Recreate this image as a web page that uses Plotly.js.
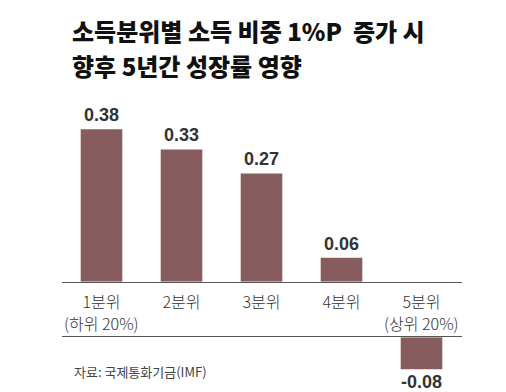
<!DOCTYPE html>
<html>
<head>
<meta charset="utf-8">
<script src="https://cdn.plot.ly/plotly-3.0.1.min.js"></script>
<style>html,body{margin:0;padding:0;background:#fff;}#chart{width:506px;height:392px;}</style>
</head>
<body>
<div id="chart"></div>
<script>
const categories = ['1분위', '2분위', '3분위', '4분위', '5분위'];
const categoryNotes = ['(하위 20%)', '', '', '', '(상위 20%)'];
const values = [0.38, 0.33, 0.27, 0.06, -0.08];
const valueLabels = ['0.38', '0.33', '0.27', '0.06', '-0.08'];
const titleLine1 = '소득분위별 소득 비중 1%P  증가 시';
const titleLine2 = '향후 5년간 성장률 영향';
const sourceText = '자료: 국제통화기금(IMF)';

const W = 506, H = 392;
const barColor = '#875c5e';
const lineColor = '#555555';
const krFont = '"Noto Sans CJK KR", "Noto Sans", sans-serif';
const numFont = '"Liberation Sans Narrow", "Liberation Sans", Arial, sans-serif';

const posY = values.map(v => v >= 0 ? v : null);
const negY = values.map(v => v < 0 ? v : null);

const xDom = [61.5 / W, 461.5 / W];
const topDom = [(H - 281.7) / H, (H - 113.3) / H];
const botDom = [(H - 391.4) / H, (H - 337.3) / H];

const traces = [
  {type: 'bar', x: categories, y: posY, xaxis: 'x', yaxis: 'y',
   marker: {color: barColor}, width: 0.52, hoverinfo: 'none'},
  {type: 'bar', x: categories, y: negY, xaxis: 'x2', yaxis: 'y2',
   marker: {color: barColor}, width: 0.52, hoverinfo: 'none'}
];

const annotations = values.map((v, i) => ({
  x: categories[i], y: v,
  xref: v >= 0 ? 'x' : 'x2', yref: v >= 0 ? 'y' : 'y2',
  text: valueLabels[i], showarrow: false, borderpad: 0,
  yanchor: v >= 0 ? 'bottom' : 'top', yshift: v >= 0 ? 3 : -2,
  font: {family: numFont, size: 18, color: '#333333', weight: 700}
}));
categoryNotes.forEach((note, i) => {
  if (note) annotations.push({
    x: categories[i], xref: 'x', yref: 'paper', y: (H - 322.5) / H,
    yanchor: 'middle', showarrow: false, borderpad: 0, text: note,
    font: {family: krFont, size: 16, color: '#333333', weight: 300}
  });
});
annotations.push({
  xref: 'paper', yref: 'paper', x: 72 / W, y: (H - 371.7) / H,
  xanchor: 'left', yanchor: 'middle', showarrow: false,
  text: sourceText, font: {family: krFont, size: 13, color: '#444444'}
});
annotations.push({
  xref: 'paper', yref: 'paper', x: 72 / W, y: (H - 65) / H,
  xanchor: 'left', yanchor: 'middle', showarrow: false, borderpad: 0,
  xshift: -1,
  text: titleLine2, font: {family: krFont, size: 24, color: '#111111', weight: 900}
});

const layout = {
  width: W, height: H,
  margin: {l: 0, r: 0, t: 0, b: 0},
  paper_bgcolor: '#ffffff', plot_bgcolor: '#ffffff',
  showlegend: false,
  title: {text: titleLine1, x: 72 / W, xanchor: 'left',
          y: 1 - 33 / H, yanchor: 'middle', yref: 'container',
          font: {family: krFont, size: 24, color: '#111111', weight: 900}},
  xaxis: {domain: xDom, anchor: 'y', type: 'category', range: [-0.5, 4.5],
          showline: true, linecolor: lineColor, linewidth: 1.5,
          ticks: '', showgrid: false, zeroline: false, fixedrange: true,
          ticklabelstandoff: 6,
          tickfont: {family: krFont, size: 16, color: '#333333', weight: 300}},
  yaxis: {domain: topDom, anchor: 'x', range: [0, 0.42], visible: false, fixedrange: true},
  xaxis2: {domain: xDom, anchor: 'y2', type: 'category', range: [-0.5, 4.5], side: 'top',
           showline: true, linecolor: lineColor, linewidth: 1.5,
           ticks: '', showticklabels: false, showgrid: false, zeroline: false, fixedrange: true},
  yaxis2: {domain: botDom, anchor: 'x2', range: [-0.135, 0], visible: false, fixedrange: true},
  annotations: annotations
};

Plotly.newPlot('chart', traces, layout, {displayModeBar: false, staticPlot: true});
</script>
</body>
</html>
